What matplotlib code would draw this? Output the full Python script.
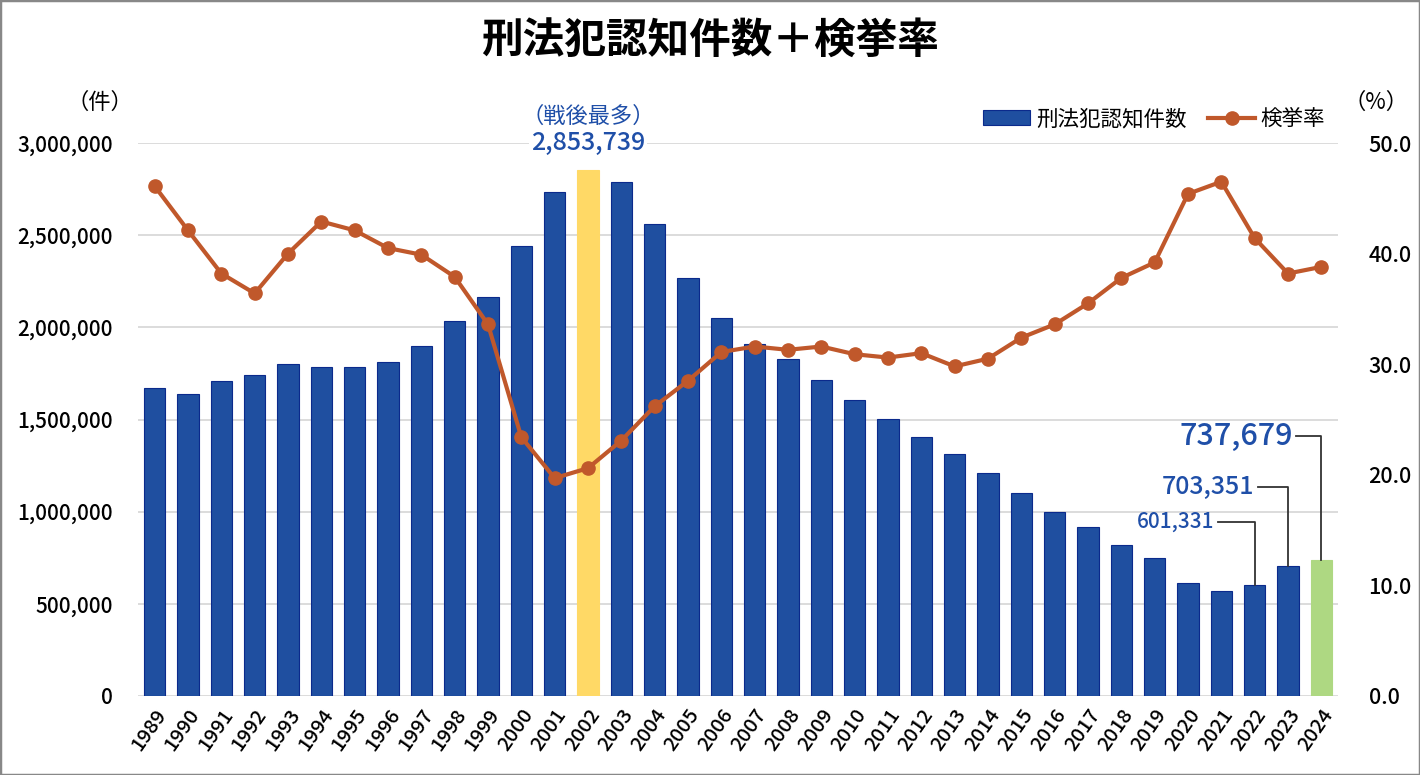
import numpy as np
import matplotlib
matplotlib.use('Agg')
import matplotlib.pyplot as plt
from matplotlib.patches import Rectangle
from matplotlib.ticker import FuncFormatter

plt.rcParams['font.family'] = ['Noto Sans CJK JP', 'DejaVu Sans']

# data
years = [str(y) for y in range(1989, 2025)]
cases = [1673268, 1636628, 1707877, 1742366, 1801150, 1784432, 1782944, 1812119,
         1899564, 2033546, 2165626, 2443470, 2735612, 2853739, 2790136, 2562767,
         2269572, 2050850, 1908836, 1826709, 1713832, 1604019, 1502951, 1403167,
         1314140, 1212163, 1098969, 996120, 915042, 817338, 748559, 614231,
         568104, 601331, 703351, 737679]
rate = [46.1, 42.1, 38.2, 36.4, 40.0, 42.9, 42.1, 40.5, 39.9, 37.9,
        33.6, 23.4, 19.7, 20.6, 23.1, 26.2, 28.5, 31.1, 31.6, 31.3,
        31.6, 30.9, 30.6, 31.0, 29.8, 30.5, 32.4, 33.6, 35.5, 37.8,
        39.2, 45.4, 46.5, 41.4, 38.2, 38.8]
bar_name = '刑法犯認知件数'
line_name = '検挙率'
title = '刑法犯認知件数＋検挙率'

blue = '#1F4FA0'
label_blue = '#1F4FA8'
orange = '#C0582B'
x = np.arange(len(years))

fig = plt.figure(figsize=(14.2, 7.75), dpi=100)
ax = fig.add_axes([138/1420, 1-696/775, 1200/1420, 553/775])
ax2 = ax.twinx()

colors = [blue] * len(years)
edges = ['#0B2A8C'] * len(years)
colors[years.index('2002')] = '#FFD966'
edges[years.index('2002')] = '#FFD966'
colors[years.index('2024')] = '#AED882'
edges[years.index('2024')] = '#AED882'
ax.bar(x, cases, width=0.64, color=colors, edgecolor=edges, linewidth=0.8,
       label=bar_name, zorder=2)

ax.set_xlim(-0.5, len(years) - 0.5)
ax.set_ylim(0, 3000000)
ax.set_yticks(np.arange(0, 3000001, 500000))
ax.yaxis.set_major_formatter(FuncFormatter(lambda v, p: f'{int(v):,}'))
ax.grid(axis='y', color='#D9D9D9', linewidth=1.3, zorder=0)
ax.set_axisbelow(True)
for s in ax.spines.values():
    s.set_visible(False)
for s in ax2.spines.values():
    s.set_visible(False)
ax.tick_params(axis='y', length=0, labelsize=15, pad=18)
ax.set_xticks(x)
ax.set_xticklabels(years, rotation=55, ha='right', rotation_mode='anchor', fontsize=14.5)
ax.tick_params(axis='x', length=0, pad=7)
for t in ax.get_xticklabels() + ax.get_yticklabels():
    t.set_fontweight('medium')

ax2.plot(x, rate, color=orange, linewidth=3, marker='o', markersize=9.5,
         label=line_name, zorder=3)
ax2.set_ylim(0, 50)
ax2.set_yticks(np.arange(0, 51, 10))
ax2.yaxis.set_major_formatter(FuncFormatter(lambda v, p: f'{v:.1f}'))
ax2.tick_params(axis='y', length=0, labelsize=15.5, pad=22)
for t in ax2.get_yticklabels():
    t.set_fontweight('medium')

# unit labels
fig.text(100/1420, 1-102/775, '（件）', fontsize=16, ha='center', va='center')
fig.text(1376/1420, 1-102/775, '（%）', fontsize=16, ha='center', va='center')

# title
fig.text(0.5, 1-42/775, title, fontsize=30, fontweight='bold', ha='center', va='center')

# peak label
i_peak = years.index('2002')
ax.text(i_peak, cases[i_peak] + 290000, '（戦後最多）', color=label_blue, fontsize=16,
        ha='center', va='center')
ax.text(i_peak, cases[i_peak] + 145000, f'{cases[i_peak]:,}', color=label_blue, fontsize=18,
        fontweight='medium', ha='center', va='center',
        bbox=dict(facecolor='white', edgecolor='none', pad=1))

# leader labels
callouts = [('2022', 944000, 1.1, 15), ('2023', 1134000, 0.9, 18), ('2024', 1410000, 0.75, 22)]
for yr, ly, dx, fs in callouts:
    i = years.index(yr)
    ax.plot([i - dx, i, i], [ly, ly, cases[i]], color='#333333', linewidth=1.3, zorder=4)
    ax.text(i - dx - 0.1, ly, f'{cases[i]:,}', color=label_blue, fontsize=fs,
            fontweight='medium', ha='right', va='center', zorder=4)

# legend
h1, l1 = ax.get_legend_handles_labels()
h2, l2 = ax2.get_legend_handles_labels()
ax2.legend(h1 + h2, l1 + l2, loc='lower right', bbox_to_anchor=(1.0, 1.0), ncol=2,
           frameon=False, fontsize=15.5, handlelength=2.2, handletextpad=0.25,
           columnspacing=1.0, borderaxespad=0.2)

fig.patches.append(Rectangle((0, 0), 1, 1, transform=fig.transFigure, fill=False,
                             edgecolor='#888888', linewidth=2.5))

fig.savefig('out.png', dpi=100)
